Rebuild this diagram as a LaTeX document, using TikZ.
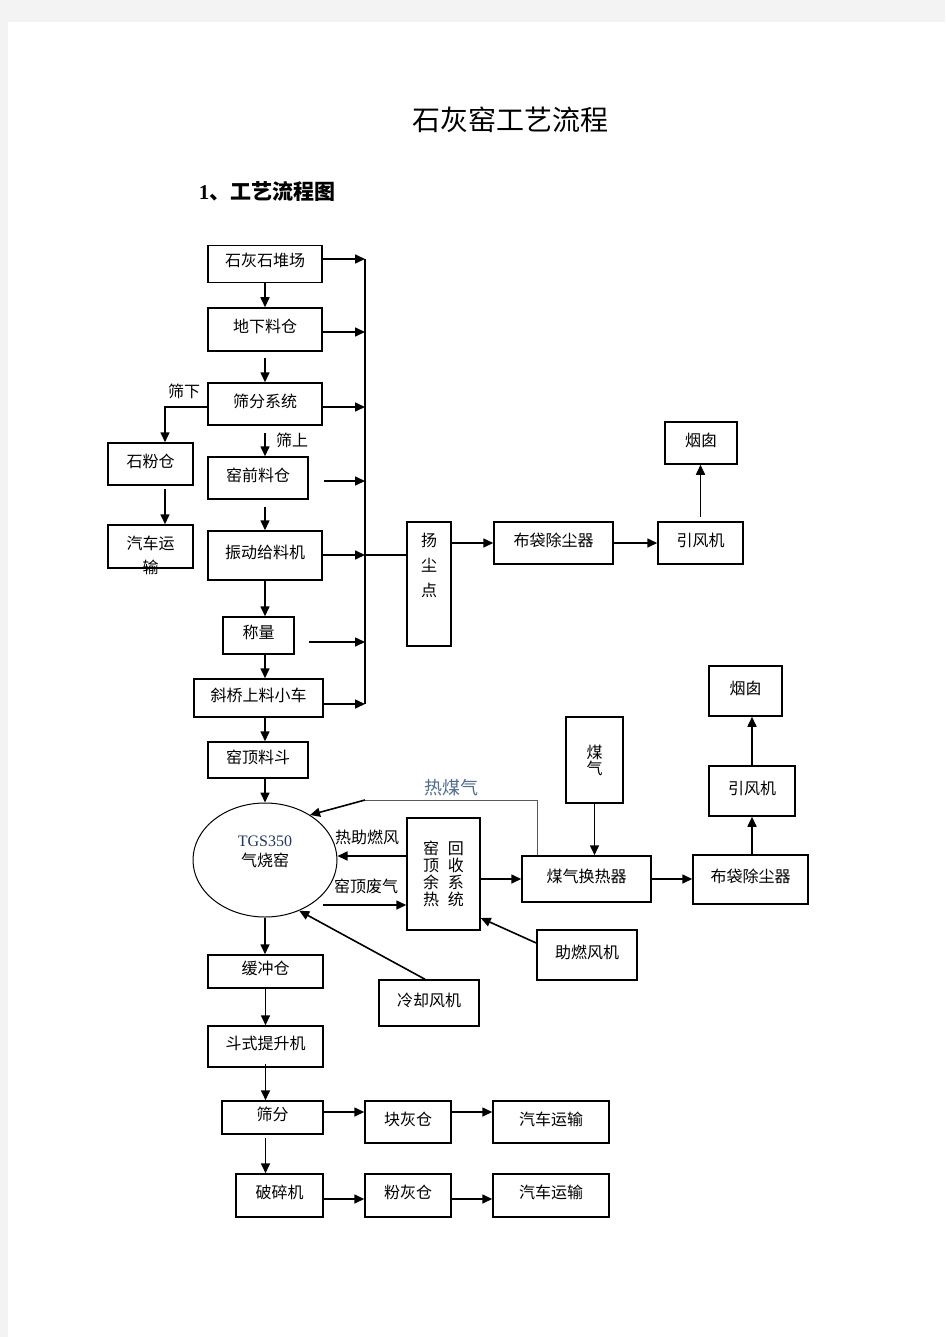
\documentclass[tikz,border=0pt]{standalone}
\usepackage{fontspec}
\usepackage{tikz}
\usetikzlibrary{arrows.meta,shapes.geometric}
\setmainfont{Noto Sans CJK SC}
\newfontfamily\timesfont{Liberation Serif}
\definecolor{pagegray}{RGB}{243,243,243}
\definecolor{tgsblue}{RGB}{31,56,100}
\definecolor{gasblue}{RGB}{80,110,145}

\begin{document}
\begin{tikzpicture}[x=1pt, y=-1pt,
  procbox/.style={draw, line width=1.5pt, shape=rectangle, align=center, inner sep=0pt,
    font=\fontsize{16}{19}\selectfont, text height=12pt, text depth=6pt},
  tallbox/.style={draw, line width=1.5pt, shape=rectangle, align=center, inner sep=0pt,
    font=\fontsize{16}{17}\selectfont},
  sz/.style 2 args={minimum width=#1pt, minimum height=#2pt},
  tag/.style={font=\fontsize{16}{19}\selectfont, inner sep=0pt},
  arr/.style={-{Triangle[length=10pt,width=9pt]}, line width=1.6pt},
  plain/.style={line width=1.6pt}]

% page
\fill[pagegray] (0,0) rectangle (945,1337);
\fill[white] (8,22) rectangle (945,1337);
\useasboundingbox (0,0) rectangle (945,1337);

\node[font=\fontsize{28}{32}\selectfont] (title) at (510,120) {石灰窑工艺流程};
\node[font=\fontsize{21}{24}\selectfont\bfseries] (head) at (267,192) {{\timesfont\bfseries 1}、工艺流程图};

% raw material line
\node[procbox, sz={114}{37}] (yard) at (265,264) {石灰石堆场};
\node[procbox, sz={114}{43}] (pit) at (265,329.5) {地下料仓};
\node[procbox, sz={114}{42}] (screen) at (265,404) {筛分系统};
\node[procbox, sz={85}{42}] (powder) at (150.5,464) {石粉仓};
\node[procbox, sz={100}{42}] (prebin) at (258,478) {窑前料仓};
\node[draw, line width=1.5pt, sz={85}{43}] (truck0) at (150.5,546.5) {};
\node[tag, align=center, anchor=north, font=\fontsize{16}{24}\selectfont] (truck0txt) at (150.5,536) {汽车运\\输};
\node[procbox, sz={114}{49}] (feeder) at (265,555.5) {振动给料机};
\node[procbox, sz={71}{37}] (scale) at (258.5,635.5) {称量};
\node[procbox, sz={129}{38}] (cart) at (258.5,698) {斜桥上料小车};
\node[procbox, sz={100}{36}] (hopper) at (258,760) {窑顶料斗};

% dust removal
\node[draw, line width=1.5pt, sz={44}{124}] (dust) at (429,584) {};
\node[tag, align=center, font=\fontsize{16}{25}\selectfont] (dusttxt) at (429,565) {扬\\尘\\点};
\node[procbox, sz={119}{42}] (bag1) at (553.5,543) {布袋除尘器};
\node[procbox, sz={85}{42}] (fan1) at (700.5,543) {引风机};
\node[procbox, sz={72}{42}] (stack1) at (701,443) {烟囱};

% kiln
\node[draw, ellipse, line width=1pt, minimum width=144pt, minimum height=114pt, inner sep=0pt] (kiln) at (265,860) {};
\node[tag, align=center, font=\fontsize{16}{20}\selectfont] (kilntxt) at (265,852) {{\timesfont\color{tgsblue}TGS350}\\气烧窑};
\node[tallbox, sz={73}{112}] (recov) at (443.5,874) {窑\hspace{9pt}回\\顶\hspace{9pt}收\\余\hspace{9pt}系\\热\hspace{9pt}统};
\node[tallbox, sz={57}{86}, font=\fontsize{16}{16}\selectfont] (gas) at (594.5,760) {煤\\气};
\node[procbox, sz={129}{46}] (hex) at (586.5,879) {煤气换热器};
\node[procbox, sz={115}{49}] (bag2) at (750.5,879.5) {布袋除尘器};
\node[procbox, sz={86}{50}] (fan2) at (752,791) {引风机};
\node[procbox, sz={73}{50}] (stack2) at (745.5,691) {烟囱};
\node[procbox, sz={100}{50}] (airfan) at (587,955) {助燃风机};
\node[procbox, sz={100}{46}] (coolfan) at (429,1003) {冷却风机};

% product line
\node[procbox, sz={115}{33}] (buffer) at (265.5,971.5) {缓冲仓};
\node[procbox, sz={115}{41}] (lift) at (265.5,1046.5) {斗式提升机};
\node[procbox, sz={101}{33}] (sieve) at (272.5,1117.5) {筛分};
\node[procbox, sz={86}{42}] (lump) at (408,1122) {块灰仓};
\node[procbox, sz={116}{42}] (truck1) at (551,1122) {汽车运输};
\node[procbox, sz={87}{43}] (crush) at (279.5,1195.5) {破碎机};
\node[procbox, sz={86}{43}] (fines) at (408,1195.5) {粉灰仓};
\node[procbox, sz={116}{43}] (truck2) at (551,1195.5) {汽车运输};

% labels
\node[tag] (under) at (184,391) {筛下};
\node[tag] (over) at (292,440) {筛上};
\node[tag, font=\fontsize{18}{20}\selectfont, text=gasblue] (hotgas) at (451,788) {热煤气};
\node[tag] (hotair) at (367,837) {热助燃风};
\node[tag] (waste) at (366,886) {窑顶废气};

% collector bus
\coordinate (b1) at (365,259);
\coordinate (b2) at (365,332);
\coordinate (b3) at (365,407);
\coordinate (b4) at (365,481);
\coordinate (b5) at (365,555);
\coordinate (b6) at (365,642);
\coordinate (b7) at (365,704);
\draw[plain] (b1) -- (b7);
\draw[arr] (yard.east |- b1) -- (b1);
\draw[arr] (pit.east |- b2) -- (b2);
\draw[arr] (screen.east |- b3) -- (b3);
\draw[arr, shorten <=15pt] (prebin.east |- b4) -- (b4);
\draw[arr] (feeder.east |- b5) -- (b5);
\draw[arr, shorten <=14pt] (scale.east |- b6) -- (b6);
\draw[arr] (cart.east |- b7) -- (b7);
\draw[plain] (b5) -- (b5 -| dust.west);

% main flow
\draw[arr] (yard) -- (pit);
\draw[arr, shorten <=6pt] (pit) -- (screen);
\draw[arr, shorten <=7pt] (screen.south) -- (screen.south |- prebin.north);
\draw[arr] (screen.west |- b3) -| ([xshift=14.5pt]powder.north);
\draw[arr, shorten <=3pt] ([xshift=14.5pt]powder.south) -- ([xshift=14.5pt]truck0.north);
\draw[arr, shorten <=7pt] (prebin.south -| feeder) -- (feeder.north);
\draw[arr] (feeder.south) -- (feeder.south |- scale.north);
\draw[arr] (scale.south -| feeder) -- (cart.north -| feeder);
\draw[arr] (cart.south -| feeder) -- (hopper.north -| feeder);
\draw[arr] (hopper.south -| kiln) -- (kiln.north);
\draw[arr] (kiln.south) -- (kiln.south |- buffer.north);
\draw[arr] (buffer) -- (lift);
\draw[arr, shorten <=-4pt] (lift.south) -- (lift.south |- sieve.north);
\draw[arr, shorten <=3pt] (sieve.south -| lift) -- (crush.north -| lift);
\draw[arr] ([yshift=5.5pt]sieve.east) -- ([yshift=5.5pt]sieve.east -| lump.west);
\draw[arr] ([yshift=10pt]lump.east) -- ([yshift=10pt]lump.east -| truck1.west);
\draw[arr] ([yshift=-3.5pt]crush.east) -- ([yshift=-3.5pt]crush.east -| fines.west);
\draw[arr] ([yshift=-3.5pt]fines.east) -- ([yshift=-3.5pt]fines.east -| truck2.west);

% dust line
\draw[arr] (dust.east |- bag1) -- (bag1.west);
\draw[arr] (bag1) -- (fan1);
\draw[arr, shorten <=4pt] (fan1.north) -- (fan1.north |- stack1.south);

% kiln gas and air
\coordinate (hg1) at (537,800);
\coordinate (hg2) at (365,800);
\draw[line width=0.9pt, gray!70!black] (hg1 |- hex.north) -- (hg1) -- (hg2);
\draw[arr] (hg2) -- (kiln.45);
\draw[arr] ([yshift=18pt]recov.west) -- ([yshift=4pt]kiln.east);
\coordinate (wasteg) at (323,905);
\draw[arr] (wasteg) -- (wasteg -| recov.west);
\draw[arr] (recov.east |- hex) -- (hex.west);
\draw[arr] ([yshift=12pt]airfan.west) -- ([yshift=-44pt]recov.east);
\draw[arr] ([xshift=-4pt]coolfan.north) -- (kiln.-56);
\draw[arr] (gas.south) -- (gas.south |- hex.north);
\draw[arr] (hex.east) -- (hex.east -| bag2.west);
\draw[arr] (bag2.north -| fan2) -- (fan2.south);
\draw[arr] (fan2.north) -- (fan2.north |- stack2.south);
\end{tikzpicture}
\end{document}
